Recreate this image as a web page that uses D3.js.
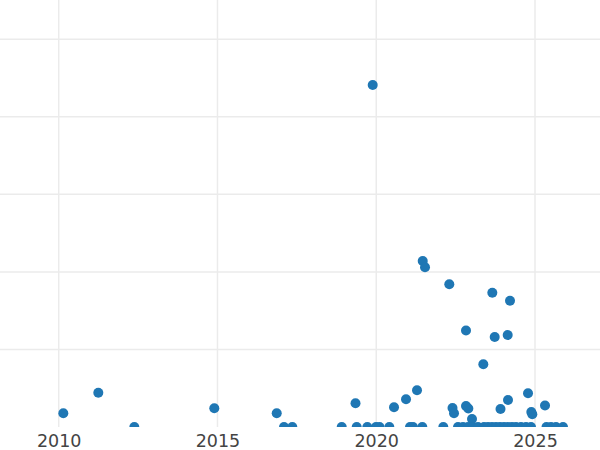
<!DOCTYPE html>
<html>
<head>
<meta charset="utf-8">
<script src="https://cdn.jsdelivr.net/npm/d3@7"></script>
<style>
  html, body { margin: 0; padding: 0; background: #fff; }
  svg { display: block; }
</style>
</head>
<body>
<script>
// Data: decimal year and value (units of one horizontal gridline)
const years = [
  2010.145, 2011.247, 2014.900, 2016.866, 2019.347, 2019.889, 2020.560, 2020.938, 2021.284,
  2021.464, 2021.536, 2022.301, 2022.827, 2023.656, 2023.731, 2024.213, 2024.140, 2023.372,
  2022.402, 2022.449, 2022.827, 2022.900, 2023.016, 2023.914, 2024.150, 2024.780, 2024.884,
  2024.915, 2025.315,
  2012.381, 2017.095, 2017.357, 2018.913, 2019.385, 2019.719, 2019.993, 2020.103, 2020.412,
  2021.064, 2021.158, 2021.451, 2022.112, 2022.575, 2022.733, 2022.890, 2023.048, 2023.205,
  2023.394, 2023.520, 2023.646, 2023.772, 2023.898, 2024.024, 2024.150, 2024.276, 2024.402,
  2024.559, 2024.717, 2024.874, 2025.362, 2025.504, 2025.661, 2025.882
];
const values = [
  0.177, 0.442, 0.241, 0.177, 0.306, 4.410, 0.254, 0.357, 0.473,
  2.141, 2.059, 1.840, 1.244, 1.732, 1.161, 1.629, 1.186, 0.809,
  0.245, 0.177, 0.271, 0.239, 0.103, 0.232, 0.348, 0.435, 0.193,
  0.164, 0.277,
  0, 0, 0, 0, 0, 0, 0, 0, 0,
  0, 0, 0, 0, 0, 0, 0, 0, 0,
  0, 0, 0, 0, 0, 0, 0, 0, 0,
  0, 0, 0, 0, 0, 0, 0
];
const xTicks = [2010, 2015, 2020, 2025];
const xTickLabels = ["2010", "2015", "2020", "2025"];
const yTicks = [0, 1, 2, 3, 4, 5];

const W = 600, H = 450;
const plotBottom = 427;
const svg = d3.select("body").append("svg").attr("width", W).attr("height", H);

const x = d3.scaleLinear().domain([2008.151, 2027.047]).range([0, W]);
const y = d3.scaleLinear().domain([0, 5.506]).range([plotBottom, 0]);

svg.append("defs").append("clipPath").attr("id", "clip")
  .append("rect").attr("x", 0).attr("y", 0).attr("width", W).attr("height", plotBottom);

const grid = svg.append("g");
grid.selectAll("line.h").data(yTicks.filter(d => d > 0)).join("line")
  .attr("x1", 0).attr("x2", W)
  .attr("y1", d => y(d)).attr("y2", d => y(d))
  .attr("stroke", "#ebebeb").attr("stroke-width", 1.5);
grid.selectAll("line.v").data(xTicks).join("line")
  .attr("x1", d => x(d)).attr("x2", d => x(d))
  .attr("y1", 0).attr("y2", plotBottom)
  .attr("stroke", "#ebebeb").attr("stroke-width", 1.5);

const pts = years.map((yr, i) => ({ yr, v: values[i] }));
svg.append("g").attr("clip-path", "url(#clip)")
  .selectAll("circle").data(pts).join("circle")
  .attr("cx", d => x(d.yr)).attr("cy", d => y(d.v)).attr("r", 5)
  .attr("fill", "#1f77b4");

const xAxis = d3.axisBottom(x).tickValues(xTicks)
  .tickFormat((d, i) => xTickLabels[i]).tickSize(0).tickPadding(0);
const ax = svg.append("g").attr("transform", `translate(0,${plotBottom})`).call(xAxis);
ax.select(".domain").remove();
ax.selectAll("text")
  .attr("y", 20).attr("dy", 0)
  .attr("fill", "#444")
  .style("font-family", "'DejaVu Sans', Verdana, sans-serif")
  .style("font-size", "17.5px");
</script>
</body>
</html>
